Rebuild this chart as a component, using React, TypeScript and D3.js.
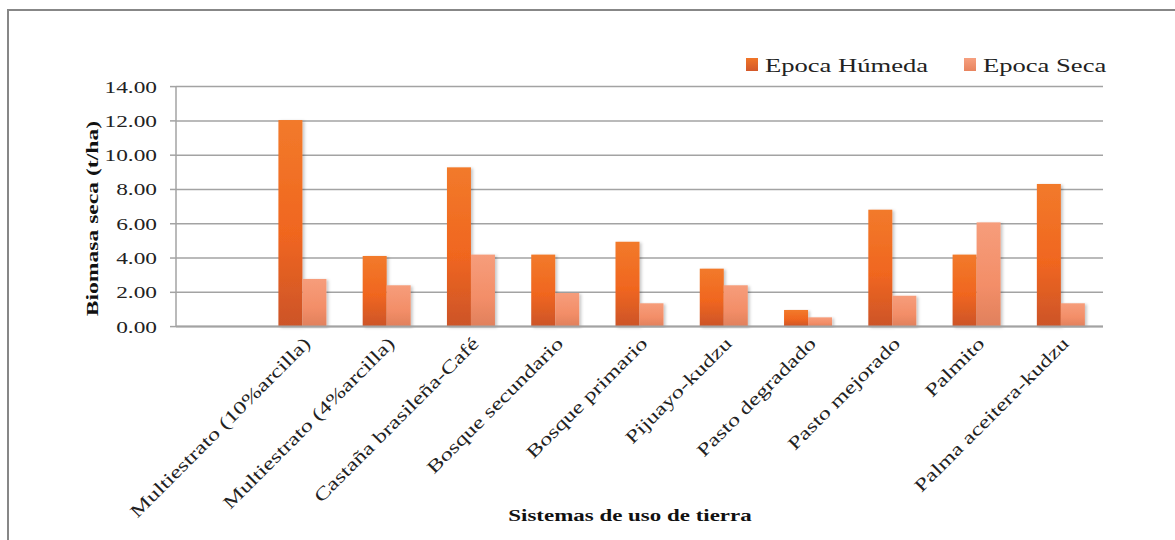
import React from "react";
import * as d3 from "d3";

const categories = [
  "",
  "Multiestrato (10%arcilla)",
  "Multiestrato (4%arcilla)",
  "Castaña brasileña-Café",
  "Bosque secundario",
  "Bosque primario",
  "Pijuayo-kudzu",
  "Pasto degradado",
  "Pasto mejorado",
  "Palmito",
  "Palma aceitera-kudzu",
];
const seriesNames = ["Epoca Húmeda", "Epoca Seca"];
const humeda: (number | null)[] = [null, 12.05, 4.12, 9.29, 4.2, 4.95, 3.38, 0.97, 6.82, 4.2, 8.32];
const seca: (number | null)[] = [null, 2.78, 2.41, 4.2, 1.96, 1.36, 2.41, 0.54, 1.8, 6.08, 1.36];
const yTicks = [0, 2, 4, 6, 8, 10, 12, 14];

const W = 1175;
const H = 540;
const M = { left: 176, right: 1103, top: 86.6, bottom: 326.6 };
const SX = 1.35;
const FONT = "'Liberation Serif', 'Times New Roman', serif";

export default function App() {
  const x = d3.scaleBand<string>().domain(categories.map((c, i) => String(i))).range([M.left, M.right]);
  const inner = d3.scaleBand<string>().domain(seriesNames).range([0, 48]).padding(0);
  const bw = inner.bandwidth();
  const groupOffset = (x.bandwidth() - 48) / 2;
  const y = d3.scaleLinear().domain([0, 14]).range([M.bottom, M.top]);
  const series = [humeda, seca];
  const fills = ["url(#gHum)", "url(#gSeca)"];

  return (
    <svg width={W} height={H} style={{ position: "absolute", left: 0, top: 0 }} fontFamily={FONT}>
      <defs>
        <linearGradient id="gHum" x1="0" y1="0" x2="0" y2="1">
          <stop offset="0" stopColor="#F27A2B" />
          <stop offset="0.55" stopColor="#F0661F" />
          <stop offset="1" stopColor="#CC5429" />
        </linearGradient>
        <linearGradient id="gSeca" x1="0" y1="0" x2="0" y2="1">
          <stop offset="0" stopColor="#F69D7B" />
          <stop offset="0.6" stopColor="#F38E68" />
          <stop offset="1" stopColor="#E0805C" />
        </linearGradient>
        <linearGradient id="lHum" x1="0" y1="0" x2="0" y2="1">
          <stop offset="0" stopColor="#F07528" />
          <stop offset="1" stopColor="#D3582A" />
        </linearGradient>
        <linearGradient id="lSeca" x1="0" y1="0" x2="0" y2="1">
          <stop offset="0" stopColor="#F6A080" />
          <stop offset="1" stopColor="#E8845F" />
        </linearGradient>
        <filter id="shadow" x="-20%" y="-5%" width="150%" height="110%">
          <feDropShadow dx="2" dy="1" stdDeviation="1.5" floodColor="#000" floodOpacity="0.22" />
        </filter>
      </defs>
      <rect x={8} y={10} width={1300} height={700} fill="#fff" stroke="#878787" strokeWidth={2} />

      {/* gridlines */}
      {yTicks.map((t) => (
        <line key={"g" + t} x1={M.left} x2={M.right} y1={y(t)} y2={y(t)} stroke="#A3A3A3" strokeWidth={1.5} />
      ))}
      {/* y axis */}
      <line x1={M.left} x2={M.left} y1={M.top} y2={M.bottom} stroke="#A3A3A3" strokeWidth={1.5} />
      {yTicks.map((t) => (
        <line key={"t" + t} x1={M.left - 6} x2={M.left} y1={y(t)} y2={y(t)} stroke="#A3A3A3" strokeWidth={1.5} />
      ))}
      {yTicks.map((t) => (
        <text
          key={"l" + t}
          transform={`translate(157,${y(t) + 6}) scale(${SX},1)`}
          textAnchor="end"
          fontSize={17.3}
          fill="#222"
        >
          {t.toFixed(2)}
        </text>
      ))}

      {/* bars */}
      {categories.map((c, i) =>
        series.map((s, k) => {
          const v = s[i];
          if (v == null) return null;
          const x0 = (x(String(i)) as number) + groupOffset + (inner(seriesNames[k]) as number);
          return (
            <rect
              key={"b" + i + "-" + k}
              x={x0}
              y={y(v)}
              width={bw}
              height={y(0) - y(v)}
              fill={fills[k]}
              filter="url(#shadow)"
            />
          );
        })
      )}
      {/* x axis line */}
      <line x1={M.left} x2={M.right} y1={M.bottom} y2={M.bottom} stroke="#A3A3A3" strokeWidth={2} />

      {/* category labels */}
      {categories.map((c, i) => {
        const cx = (x(String(i)) as number) + x.bandwidth() / 2;
        return (
          <text
            key={"c" + i}
            transform={`translate(${cx + 9},${M.bottom + 18}) rotate(-45) scale(${SX},1)`}
            textAnchor="end"
            fontSize={18}
            fill="#222"
          >
            {c}
          </text>
        );
      })}

      {/* axis titles */}
      <text
        transform={`translate(98,${(M.top + M.bottom) / 2 + 12}) rotate(-90) scale(${SX},1)`}
        textAnchor="middle"
        fontSize={17.5}
        fontWeight="bold"
        fill="#111"
      >
        Biomasa seca (t/ha)
      </text>
      <text
        transform={`translate(630,521) scale(${SX},1)`}
        textAnchor="middle"
        fontSize={17}
        fontWeight="bold"
        fill="#111"
      >
        Sistemas de uso de tierra
      </text>

      {/* legend */}
      {seriesNames.map((n, k) => {
        const lx = [746, 964][k];
        return (
          <g key={"lg" + k}>
            <rect x={lx} y={58} width={12} height={13} fill={k === 0 ? "url(#lHum)" : "url(#lSeca)"} />
            <text transform={`translate(${lx + 19},72) scale(${SX},1)`} fontSize={19.7} fill="#222">
              {n}
            </text>
          </g>
        );
      })}
    </svg>
  );
}
